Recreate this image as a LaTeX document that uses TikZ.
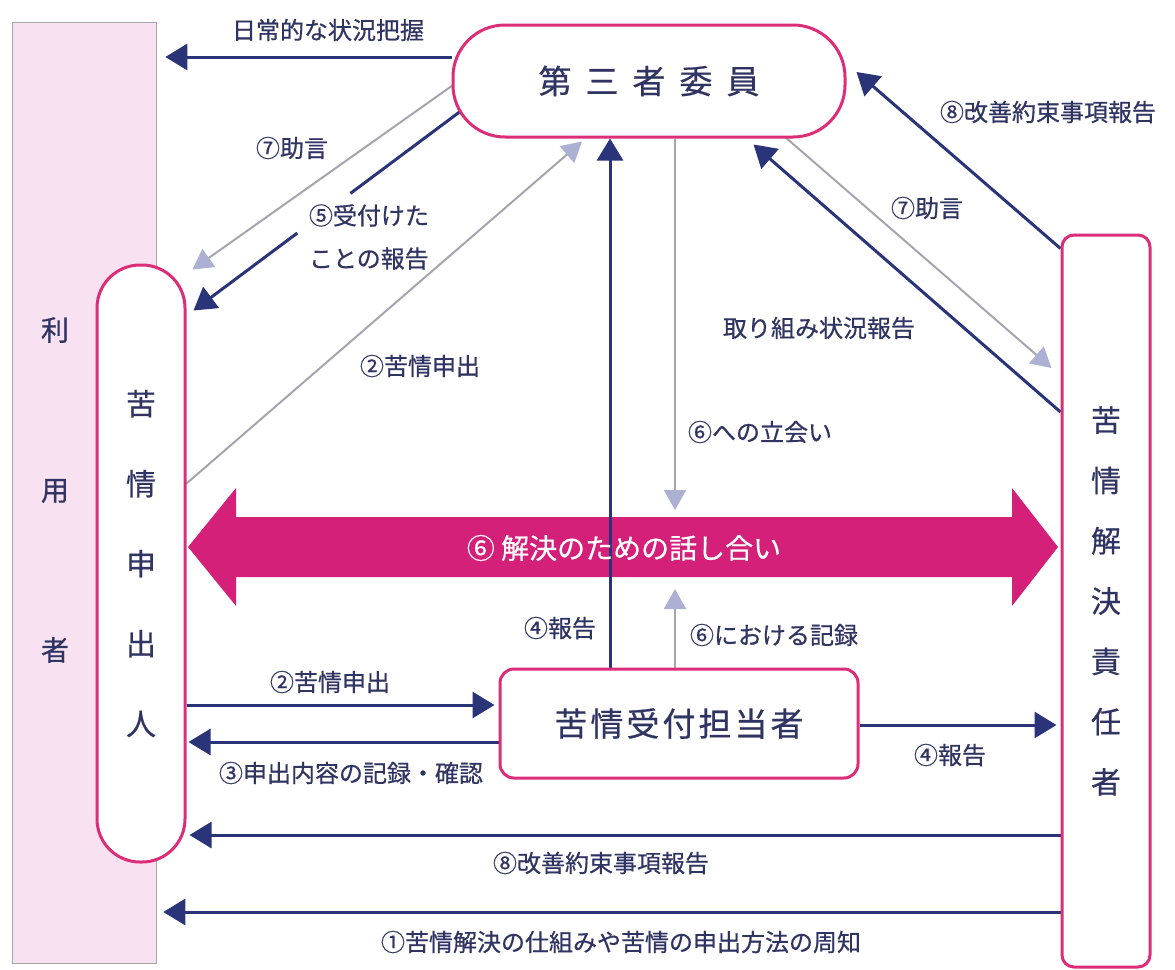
\documentclass[tikz,border=0pt]{standalone}
\usepackage{fontspec}
\setmainfont{Noto Sans CJK JP}[FakeBold=0.6]
\usetikzlibrary{arrows.meta}
\definecolor{navy}{RGB}{42,52,120}
\definecolor{txt}{RGB}{48,52,98}
\definecolor{pinkb}{RGB}{220,45,120}
\definecolor{mag}{RGB}{212,32,120}
\definecolor{userfill}{RGB}{248,226,242}
\definecolor{greyl}{RGB}{165,165,175}
\definecolor{lav}{RGB}{172,176,210}
\pgfdeclarelayer{paper}
\pgfdeclarelayer{back}
\pgfdeclarelayer{bg}
\pgfsetlayers{paper,back,bg,main}
\begin{document}
\begin{tikzpicture}[x=1pt,y=-1pt,
  navline/.style={draw=navy,line width=3pt},
  nav/.style={navline,-{Triangle[length=22pt,width=26pt]}},
  gry/.style={draw=greyl,line width=2pt,-{Triangle[length=20pt,width=22pt,fill=lav,color=lav]}},
  lbl/.style={text=txt,font=\fontsize{24}{30}\selectfont,inner sep=1pt},
  party/.style={draw=pinkb,line width=3pt,fill=white,text=txt,inner sep=0pt}]
\useasboundingbox (0,0) rectangle (1175,969);
\begin{pgfonlayer}{paper}
\fill[white] (0,0) rectangle (1175,969);
\end{pgfonlayer}
% nodes
\node[draw=gray!70,fill=userfill,line width=0.6pt,minimum width=144pt,minimum height=941pt,inner sep=0pt] (user) at (84,492.5) {};
\node[text=txt,align=center,font=\fontsize{28}{160}\selectfont] (userlbl) at (55,490) {利\\用\\者};
\node[party,rounded corners=43pt,minimum width=88pt,minimum height=597pt,align=center,font=\fontsize{30}{80}\selectfont] (comp) at (141,563.5) {苦\\情\\申\\出\\人};
\node[party,rounded corners=52pt,minimum width=392pt,minimum height=112pt,font=\fontsize{33}{36}\selectfont] (third) at (649,81) {第\hspace{14pt}三\hspace{14pt}者\hspace{14pt}委\hspace{14pt}員};
\node[party,rounded corners=12pt,minimum width=88pt,minimum height=732pt,align=center,font=\fontsize{30}{60.3}\selectfont] (resp) at (1106,601) {苦\\情\\解\\決\\責\\任\\者};
\node[party,rounded corners=14pt,minimum width=358pt,minimum height=109pt,font=\fontsize{33}{36}\selectfont] (recv) at (679,723.5) {苦\hspace{3pt}情\hspace{3pt}受\hspace{3pt}付\hspace{3pt}担\hspace{3pt}当\hspace{3pt}者};
% big double arrow
\begin{pgfonlayer}{back}
\fill[mag] (188,547) -- (236,488) -- (236,517) -- (1012,517) -- (1012,488) -- (1058,547) -- (1012,606) -- (1012,577) -- (236,577) -- (236,606) -- cycle;
\end{pgfonlayer}
\node[text=white,font=\fontsize{28}{32}\selectfont] (talk) at (624,548) {⑥ 解決のための話し合い};
\coordinate (talkN) at (675,510);
\coordinate (talkS) at (675,589);
% labels
\node[lbl] (l1) at (328,30) {日常的な状況把握};
\node[lbl] (l2) at (292,148) {⑦助言};
\node[lbl,align=left,font=\fontsize{24}{43}\selectfont] (l3) at (369,237) {⑤受付けた\\ことの報告};
\node[lbl] (l4) at (420,366) {②苦情申出};
\node[lbl] (l5) at (819,328) {取り組み状況報告};
\node[lbl] (l6) at (760,432) {⑥への立会い};
\node[lbl] (l7) at (560,628) {④報告};
\node[lbl] (l8) at (774,635) {⑥における記録};
\node[lbl] (l9) at (927,208) {⑦助言};
\node[lbl] (l10) at (1048,112) {⑧改善約束事項報告};
\node[lbl] (l11) at (330,682) {②苦情申出};
\node[lbl] (l12) at (351,773) {③申出内容の記録・確認};
\node[lbl] (l13) at (950,755) {④報告};
\node[lbl] (l14) at (601,863) {⑧改善約束事項報告};
\node[lbl] (l15) at (621,942) {①苦情解決の仕組みや苦情の申出方法の周知};
% connectors
\begin{pgfonlayer}{bg}
\draw[nav,shorten >=9pt] (third.west |- 0,57) -- (user.east |- 0,57);
\draw[gry] ([shift={(3,3)}]third.west) -- ([shift={(6,6)}]comp.north east);
\path ([shift={(8,31)}]third.west) coordinate (r5s) -- ([shift={(7,47)}]comp.north east) coordinate (r5e)
  coordinate[pos=0.41] (r5a) coordinate[pos=0.61] (r5b);
\draw[navline] (r5s) -- (r5a);
\draw[nav] (r5b) -- (r5e);
\draw[gry] ([shift={(0,-80)}]comp.east) -- ([shift={(-67,3)}]third.south);
\draw[nav] (recv.north -| 610,0) -- (third.south -| 610,0);
\draw[gry] (third.south -| 675,0) -- (talkN);
\draw[gry] (recv.north -| 675,0) -- (talkS);
\draw[nav] ([shift={(0,-189)}]resp.west) -- ([shift={(-93,6)}]third.south east);
\draw[gry] ([shift={(-62,-2)}]third.south east) -- ([shift={(-9,-233)}]resp.west);
\draw[nav] ([shift={(0,15)}]resp.north west) -- ([shift={(10,-9)}]third.east);
\draw[nav,shorten >=3pt] (resp.west |- 0,835) -- (comp.east |- 0,835);
\draw[nav,shorten >=7pt] (resp.west |- 0,912) -- (user.east |- 0,912);
\draw[nav,shorten >=4pt] (comp.east |- 0,705) -- (recv.west |- 0,705);
\draw[nav,shorten >=2pt] (recv.west |- 0,742) -- (comp.east |- 0,742);
\draw[nav,shorten >=4pt] (recv.east |- 0,725) -- (resp.west |- 0,725);
\end{pgfonlayer}
\end{tikzpicture}
\end{document}
